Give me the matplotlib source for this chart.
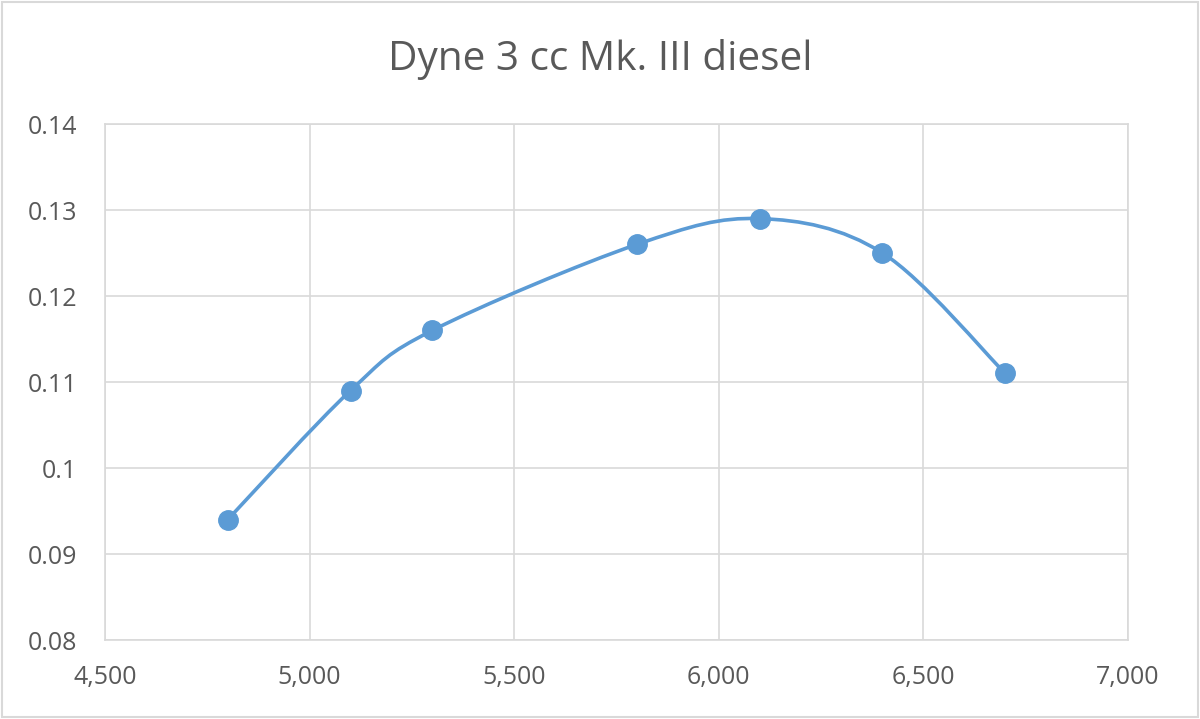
import matplotlib
matplotlib.use("Agg")
import matplotlib.pyplot as plt
from matplotlib.path import Path
from matplotlib.patches import PathPatch, Rectangle
from matplotlib.ticker import FuncFormatter
import numpy as np

rpm = [4800, 5100, 5300, 5800, 6100, 6400, 6700]
power = [0.094, 0.109, 0.116, 0.126, 0.129, 0.125, 0.111]
title = "Dyne 3 cc Mk. III diesel"

line_color = "#5b9bd5"
text_color = "#595959"
grid_color = "#d9d9d9"

plt.rcParams["font.family"] = ["Open Sans", "DejaVu Sans"]

fig = plt.figure(figsize=(12, 7.19), dpi=100)
ax = fig.add_axes([105 / 1200, 1 - 640 / 719, (1128 - 105) / 1200, (640 - 124) / 719])

# Excel-style smoothed line: cubic Bezier segments with 1/6 tangents
pts = np.column_stack([rpm, power]).astype(float)
verts = [tuple(pts[0])]
codes = [Path.MOVETO]
n = len(pts)
for i in range(n - 1):
    p0 = pts[max(i - 1, 0)]
    p1 = pts[i]
    p2 = pts[i + 1]
    p3 = pts[min(i + 2, n - 1)]
    c1 = p1 + (p2 - p0) / 6
    c2 = p2 - (p3 - p1) / 6
    verts += [tuple(c1), tuple(c2), tuple(p2)]
    codes += [Path.CURVE4] * 3
ax.add_patch(PathPatch(Path(verts, codes), facecolor="none", edgecolor=line_color,
                       lw=2.6, capstyle="round", zorder=3))
ax.plot(rpm, power, ls="none", marker="o", ms=14, color=line_color, zorder=4)

ax.set_xlim(4500, 7000)
ax.set_ylim(0.08, 0.14)
ax.set_xticks(np.arange(4500, 7001, 500))
ax.set_yticks(np.arange(0.08, 0.1401, 0.01))
ax.xaxis.set_major_formatter(FuncFormatter(lambda v, p: f"{v:,.0f}"))
ax.yaxis.set_major_formatter(FuncFormatter(lambda v, p: f"{v:.2f}".rstrip("0").rstrip(".") if abs(v - 0.1) < 1e-9 else f"{v:.2f}"))
ax.grid(True, color=grid_color, lw=1.2)
ax.set_axisbelow(True)
for s in ax.spines.values():
    s.set_color(grid_color)
    s.set_linewidth(1.2)
ax.tick_params(length=0, colors=text_color, labelsize=18)
ax.tick_params(axis="y", pad=20)
ax.tick_params(axis="x", pad=18)

fig.text(0.5, 1 - 70 / 719, title, ha="center", va="baseline", fontsize=29.2, color=text_color)
fig.add_artist(Rectangle((2 / 1200, 2 / 719), 1196 / 1200, 715 / 719, transform=fig.transFigure,
                         facecolor="none", edgecolor=grid_color, lw=1.5))

fig.savefig("out.png", dpi=100)
